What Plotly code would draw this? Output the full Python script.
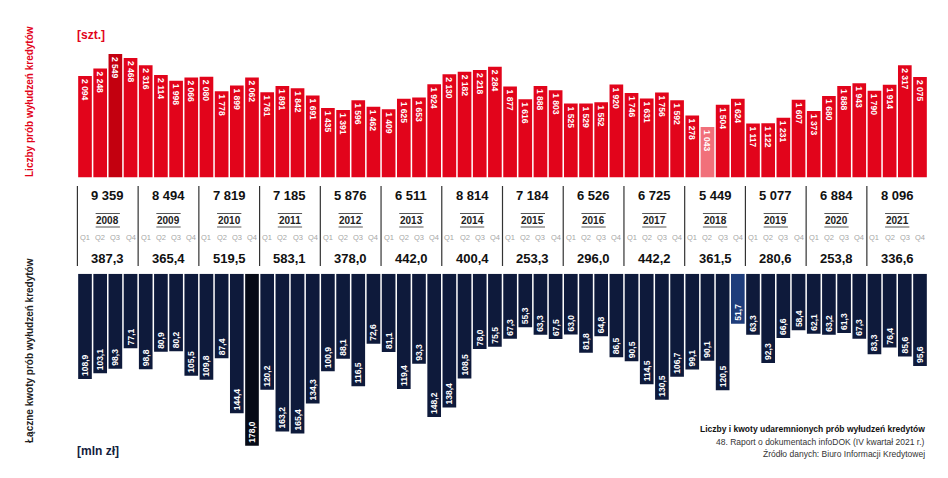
import plotly.graph_objects as go

years = [2008, 2009, 2010, 2011, 2012, 2013, 2014, 2015, 2016, 2017, 2018, 2019, 2020, 2021]
quarters = ["Q1", "Q2", "Q3", "Q4"]

counts = [
    2094, 2248, 2549, 2468,
    2316, 2114, 1998, 2066,
    2080, 1778, 1899, 2062,
    1761, 1891, 1842, 1691,
    1435, 1391, 1596, 1462,
    1409, 1625, 1653, 1924,
    2130, 2182, 2218, 2284,
    1877, 1616, 1888, 1803,
    1525, 1529, 1552, 1920,
    1746, 1631, 1756, 1592,
    1278, 1043, 1504, 1624,
    1117, 1122, 1231, 1607,
    1373, 1680, 1888, 1943,
    1790, 1914, 2317, 2075,
]

amounts = [
    108.9, 103.1, 98.3, 77.1,
    98.8, 80.9, 80.2, 105.5,
    109.8, 87.4, 144.4, 178.0,
    120.2, 163.2, 165.4, 134.3,
    100.9, 88.1, 116.5, 72.6,
    81.1, 119.4, 93.3, 148.2,
    138.4, 108.5, 78.0, 75.5,
    67.3, 55.3, 63.3, 67.5,
    63.0, 81.8, 64.8, 86.5,
    90.5, 114.5, 130.5, 106.7,
    99.1, 90.1, 120.5, 51.7,
    63.3, 92.3, 66.6, 58.4,
    62.1, 63.2, 61.3, 67.3,
    83.3, 76.4, 85.6, 95.6,
]

year_counts = [9359, 8494, 7819, 7185, 5876, 6511, 8814, 7184, 6526, 6725, 5449, 5077, 6884, 8096]
year_amounts = [387.3, 365.4, 519.5, 583.1, 378.0, 442.0, 400.4, 253.3, 296.0, 442.2, 361.5, 280.6, 253.8, 336.6]

W, H = 948, 478
RED, RED_MAX, RED_MIN = "#e2041b", "#c3000f", "#f1707a"
NAVY, NAVY_MAX, NAVY_MIN = "#0e1a3b", "#060a16", "#1e3d7b"
FONT = "Liberation Sans Narrow, Liberation Sans, Arial, sans-serif"

def fmt_int(v):
    return f"{v:,}".replace(",", " ")

def fmt_dec(v):
    return f"{v:.1f}".replace(".", ",")

n = len(counts)
xs = list(range(n))

imax_c = counts.index(max(counts)); imin_c = counts.index(min(counts))
imax_a = amounts.index(max(amounts)); imin_a = amounts.index(min(amounts))
col_c = [RED_MAX if i == imax_c else RED_MIN if i == imin_c else RED for i in xs]
col_a = [NAVY_MAX if i == imax_a else NAVY_MIN if i == imin_a else NAVY for i in xs]

def py(px):
    return 1 - px / H

# pixel geometry
x0_px, x1_px = 77.0, 912.0
step = (x1_px - x0_px) / (n - 1)
xr0 = -x0_px / step
xr1 = xr0 + W / step

top_base, top_peak = 169.5, 46.0
top_scale = (top_base - top_peak) / max(counts)
top_top_px = 25.0
bot_base, bot_peak = 265.7, 437.7
bot_scale = (bot_peak - bot_base) / max(amounts)
bot_end_px = 472.0

fig = go.Figure()
fig.add_trace(go.Bar(
    x=xs, y=counts, width=0.9, marker=dict(color=col_c, line=dict(width=0)),
    text=[f"<b>{fmt_int(v)}</b>" for v in counts], textposition="inside", insidetextanchor="end",
    textangle=90, textfont=dict(color="white", size=8.5, family=FONT),
    xaxis="x", yaxis="y", hoverinfo="skip", showlegend=False,
))
fig.add_trace(go.Bar(
    x=xs, y=amounts, width=0.9, marker=dict(color=col_a, line=dict(width=0)),
    text=[f"<b>{fmt_dec(v)}</b>" for v in amounts], textposition="inside", insidetextanchor="end",
    textangle=-90, textfont=dict(color="white", size=8.5, family=FONT),
    xaxis="x2", yaxis="y2", hoverinfo="skip", showlegend=False,
))

ann = []
shapes = []
def A(**kw):
    kw.setdefault("showarrow", False)
    kw.setdefault("yanchor", "middle")
    kw.setdefault("xanchor", "center")
    ann.append(kw)

for k, yr in enumerate(years):
    c = 4 * k + 1.5
    A(x=c, y=py(187), xref="x", yref="paper", text=f"<b>{fmt_int(year_counts[k])}</b>",
      font=dict(size=13, color="#111111", family=FONT))
    A(x=c, y=py(212.5), xref="x", yref="paper", text=f"<b>{yr}</b>",
      font=dict(size=10, color="#222222", family=FONT))
    A(x=c, y=py(250), xref="x", yref="paper", text=f"<b>{fmt_dec(year_amounts[k])}</b>",
      font=dict(size=13, color="#111111", family=FONT))
    for q, ql in enumerate(quarters):
        A(x=4 * k + q, y=py(229), xref="x", yref="paper", text=ql,
          font=dict(size=7.5, color="#a6a6a6", family=FONT))
    shapes.append(dict(type="line", xref="x", yref="paper", x0=4 * k - 0.5, x1=4 * k - 0.5,
                       y0=py(178), y1=py(258), line=dict(color="#333333", width=1.2)))
    shapes.append(dict(type="line", xref="x", yref="paper", x0=c - 0.8, x1=c + 0.8,
                       y0=py(205.5), y1=py(205.5), line=dict(color="#555555", width=1)))
    shapes.append(dict(type="line", xref="x", yref="paper", x0=c - 0.8, x1=c + 0.8,
                       y0=py(219), y1=py(219), line=dict(color="#555555", width=1)))

A(x=21 / W, y=py(94), xref="paper", yref="paper", text="<b>Liczby prób wyłudzeń kredytów</b>",
  textangle=-90, font=dict(size=10, color=RED, family=FONT))
A(x=21 / W, y=py(343), xref="paper", yref="paper", text="<b>Łączne kwoty prób wyłudzeń kredytów</b>",
  textangle=-90, font=dict(size=10, color="#222222", family=FONT))
A(x=67 / W, y=py(27), xref="paper", yref="paper", text="<b>[szt.]</b>", xanchor="left",
  font=dict(size=12, color=RED, family=FONT))
A(x=67 / W, y=py(443), xref="paper", yref="paper", text="<b>[mln zł]</b>", xanchor="left",
  font=dict(size=12, color="#14213d", family=FONT))
A(x=919 / W, y=py(421), xref="paper", yref="paper", xanchor="right",
  text="<b>Liczby i kwoty udaremnionych prób wyłudzeń kredytów</b>",
  font=dict(size=8.5, color="#111111", family=FONT))
A(x=919 / W, y=py(434), xref="paper", yref="paper", xanchor="right",
  text="48. Raport o dokumentach infoDOK (IV kwartał 2021 r.)",
  font=dict(size=8.5, color="#333333", family=FONT))
A(x=919 / W, y=py(446), xref="paper", yref="paper", xanchor="right",
  text="Źródło danych: Biuro Informacji Kredytowej",
  font=dict(size=8.5, color="#333333", family=FONT))

axis_common = dict(showgrid=False, zeroline=False, showticklabels=False, ticks="", showline=False)
fig.update_layout(
    width=W, height=H, margin=dict(l=0, r=0, t=0, b=0),
    paper_bgcolor="white", plot_bgcolor="rgba(0,0,0,0)",
    barmode="overlay",
    uniformtext=dict(minsize=8, mode="show"),
    xaxis=dict(domain=[0, 1], range=[xr0, xr1], anchor="y", **axis_common),
    xaxis2=dict(domain=[0, 1], range=[xr0, xr1], anchor="y2", **axis_common),
    yaxis=dict(domain=[py(top_base), py(top_top_px)], range=[0, (top_base - top_top_px) / top_scale],
               anchor="x", **axis_common),
    yaxis2=dict(domain=[py(bot_end_px), py(bot_base)], range=[(bot_end_px - bot_base) / bot_scale, 0],
                anchor="x2", **axis_common),
    annotations=ann, shapes=shapes,
    font=dict(family=FONT),
)

fig.write_html("out.html")
